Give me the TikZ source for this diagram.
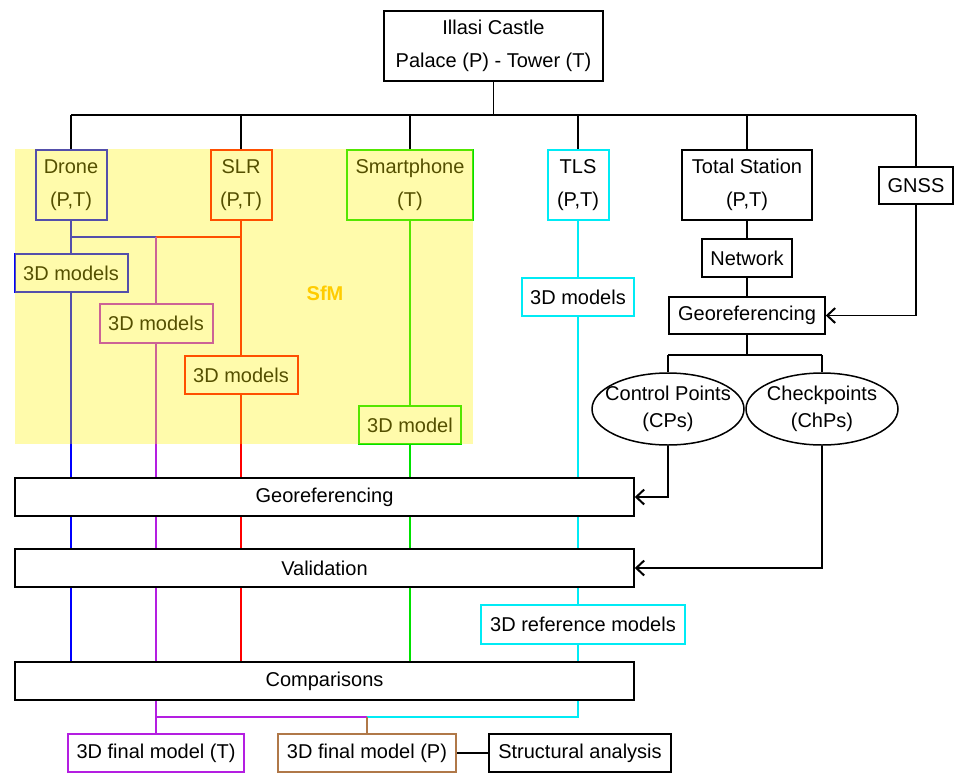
\documentclass[tikz,border=0pt]{standalone}
\usepackage{fontspec}
\setmainfont{Liberation Sans}
\usetikzlibrary{shapes.geometric,arrows.meta}
\definecolor{cblue}{RGB}{0,0,255}
\definecolor{cred}{RGB}{255,0,0}
\definecolor{cgreen}{RGB}{0,225,0}
\definecolor{ccyan}{RGB}{0,235,245}
\definecolor{cpurp}{RGB}{180,30,225}
\definecolor{cbrown}{RGB}{176,120,72}
\definecolor{csfm}{RGB}{255,204,0}
\newcommand\myfs{\fontsize{20}{32.5}\selectfont}
\newcommand\myfe{\fontsize{20}{27}\selectfont}
\begin{document}
\begin{tikzpicture}[x=1pt,y=-1pt,
  bx/.style={draw=black,line width=1.5pt,rectangle,inner sep=0pt,align=center,font=\myfs},
  cbx/.style={bx,draw=#1,line width=2pt},
  ell/.style={draw=black,line width=1.5pt,ellipse,inner sep=0pt,minimum width=152pt,minimum height=72pt},
  ln/.style={line width=1.5pt,draw=black},
  cln/.style={line width=2pt,draw=#1},
  arr/.style={ln,-{Straight Barb[length=8pt,width=15pt,line width=2pt]}},
  txt/.style={inner sep=0pt,align=center,font=\myfe}]
\useasboundingbox (0,0) rectangle (955,774);

% top
\node[bx,minimum width=219pt,minimum height=70pt] (castle) at (493.5,46) {Illasi Castle\\Palace (P) - Tower (T)};
\coordinate (bus) at (0,115);
\coordinate (mid) at (0,237);
\coordinate (bot) at (0,717);
\coordinate (split) at (0,355);

% sources
\node[cbx=cblue,minimum width=71pt,minimum height=70pt] (drone) at (71,185) {Drone\\(P,T)};
\node[cbx=cred,minimum width=61pt,minimum height=70pt] (slr) at (241,185) {SLR\\(P,T)};
\node[cbx=cgreen,minimum width=126pt,minimum height=70pt] (smart) at (410,185) {Smartphone\\(T)};
\node[cbx=ccyan,minimum width=61pt,minimum height=70pt] (tls) at (578,185) {TLS\\(P,T)};
\node[bx,minimum width=130pt,minimum height=70pt] (ts) at (747,185) {Total Station\\(P,T)};
\node[bx,minimum width=74pt,minimum height=37pt] (gnss) at (916,185.5) {GNSS};

% models
\node[cbx=cblue,minimum width=113pt,minimum height=38pt] (dm) at (71,273) {3D models};
\node[cbx=cpurp,minimum width=113pt,minimum height=39pt] (pm) at (156,323.5) {3D models};
\node[cbx=cred,minimum width=113pt,minimum height=38pt] (sm) at (241,375) {3D models};
\node[cbx=cgreen,minimum width=102pt,minimum height=38pt] (spm) at (410,425) {3D model};
\node[cbx=ccyan,minimum width=112pt,minimum height=38pt] (tm) at (578,297) {3D models};
\node[bx,minimum width=90pt,minimum height=38pt] (net) at (747,258) {Network};
\node[bx,minimum width=156pt,minimum height=37pt] (geo1) at (747,315.5) {Georeferencing};
\node[ell] (cp) at (668,409) {};
\node[txt] (cpt) at (cp) {Control Points\\(CPs)};
\node[ell] (chp) at (822,409) {};
\node[txt] (chpt) at (chp) {Checkpoints\\(ChPs)};

% long boxes
\node[bx,minimum width=619pt,minimum height=38pt] (geo2) at (324.5,497) {Georeferencing};
\node[bx,minimum width=619pt,minimum height=38pt] (val) at (324.5,568) {Validation};
\node[bx,minimum width=619pt,minimum height=38pt] (comp) at (324.5,681) {Comparisons};
\node[cbx=ccyan,minimum width=204pt,minimum height=39pt] (ref) at (583,624.5) {3D reference models};
\node[cbx=cpurp,minimum width=176pt,minimum height=38pt] (fT) at (156,753) {3D final model (T)};
\node[cbx=cbrown,minimum width=178pt,minimum height=38pt] (fP) at (367,753) {3D final model (P)};
\node[bx,minimum width=182pt,minimum height=38pt] (sa) at (580,753) {Structural analysis};

% black tree
\draw[ln] (castle.south) -- (castle |- bus);
\draw[ln] (drone |- bus) -- (gnss |- bus);
\foreach \n in {drone,slr,smart,tls,ts,gnss} \draw[ln] (\n |- bus) -- (\n.north);
\draw[ln] (ts.south) -- (net.north);
\draw[ln] (net.south) -- (geo1.north);
\draw[arr] (gnss.south) -- (gnss |- geo1) -- (geo1.east);
\draw[ln] (geo1.south) -- (geo1 |- split);
\draw[ln] (cp |- split) -- (chp |- split);
\draw[ln] (cp |- split) -- (cp.north);
\draw[ln] (chp |- split) -- (chp.north);
\draw[arr] (cp.south) -- (cp |- geo2) -- (geo2.east);
\draw[arr] (chp.south) -- (chp |- val) -- (val.east);
\draw[ln] (fP.east) -- (sa.west);

% blue
\draw[cln=cblue] (drone.south) -- (dm.north);
\draw[cln=cblue] (drone |- mid) -- (pm |- mid);
\draw[cln=cblue] (dm.south) -- (dm |- geo2.north);
\draw[cln=cblue] (dm |- geo2.south) -- (dm |- val.north);
\draw[cln=cblue] (dm |- val.south) -- (dm |- comp.north);
% red
\draw[cln=cred] (slr.south) -- (sm.north);
\draw[cln=cred] (slr |- mid) -- (pm |- mid);
\draw[cln=cred] (sm.south) -- (sm |- geo2.north);
\draw[cln=cred] (sm |- geo2.south) -- (sm |- val.north);
\draw[cln=cred] (sm |- val.south) -- (sm |- comp.north);
% purple
\draw[cln=cpurp] (pm |- mid) -- (pm.north);
\draw[cln=cpurp] (pm.south) -- (pm |- geo2.north);
\draw[cln=cpurp] (pm |- geo2.south) -- (pm |- val.north);
\draw[cln=cpurp] (pm |- val.south) -- (pm |- comp.north);
\draw[cln=cpurp] (fT |- comp.south) -- (fT.north);
\draw[cln=cpurp] (fT |- bot) -- (fP |- bot);
% green
\draw[cln=cgreen] (smart.south) -- (spm.north);
\draw[cln=cgreen] (spm.south) -- (spm |- geo2.north);
\draw[cln=cgreen] (spm |- geo2.south) -- (spm |- val.north);
\draw[cln=cgreen] (spm |- val.south) -- (spm |- comp.north);
% cyan
\draw[cln=ccyan] (tls.south) -- (tm.north);
\draw[cln=ccyan] (tm.south) -- (tm |- geo2.north);
\draw[cln=ccyan] (tm |- geo2.south) -- (tm |- val.north);
\draw[cln=ccyan] (tm |- val.south) -- (tm |- ref.north);
\draw[cln=ccyan] (tm |- ref.south) -- (tm |- comp.north);
\draw[cln=ccyan] (tm |- comp.south) -- (tm |- bot) -- (fP |- bot);
% brown
\draw[cln=cbrown] (fP |- bot) -- (fP.north);

% SfM overlay
\fill[yellow,opacity=0.33] (15,149) rectangle (473,444);
\node[inner sep=0pt,font=\fontsize{20}{22}\selectfont\bfseries,text=csfm] (sfm) at (325,293) {SfM};
\end{tikzpicture}
\end{document}
